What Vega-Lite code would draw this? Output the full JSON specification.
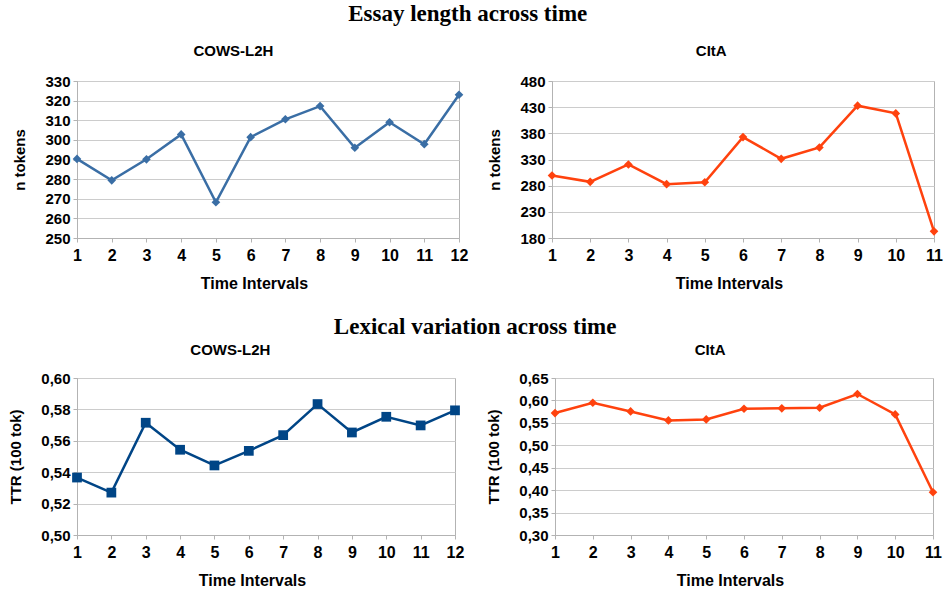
{
  "$schema": "https://vega.github.io/schema/vega-lite/v6.json",
  "background": "white",
  "padding": {"left": 8, "top": 2, "right": 4, "bottom": 2},
  "datasets": {
    "cows_len": [
      {"t": 1, "v": 290.3}, {"t": 2, "v": 279.4}, {"t": 3, "v": 290.1}, {"t": 4, "v": 302.8},
      {"t": 5, "v": 268.2}, {"t": 6, "v": 301.4}, {"t": 7, "v": 310.5}, {"t": 8, "v": 317.2},
      {"t": 9, "v": 296.0}, {"t": 10, "v": 309.0}, {"t": 11, "v": 297.8}, {"t": 12, "v": 323.0}
    ],
    "cita_len": [
      {"t": 1, "v": 299.4}, {"t": 2, "v": 287.3}, {"t": 3, "v": 320.5}, {"t": 4, "v": 282.8},
      {"t": 5, "v": 286.6}, {"t": 6, "v": 372.8}, {"t": 7, "v": 331.3}, {"t": 8, "v": 353.0},
      {"t": 9, "v": 432.8}, {"t": 10, "v": 418.1}, {"t": 11, "v": 192.8}
    ],
    "cows_ttr": [
      {"t": 1, "v": 0.5366}, {"t": 2, "v": 0.527}, {"t": 3, "v": 0.5715}, {"t": 4, "v": 0.5543},
      {"t": 5, "v": 0.5443}, {"t": 6, "v": 0.5536}, {"t": 7, "v": 0.5636}, {"t": 8, "v": 0.5834},
      {"t": 9, "v": 0.5653}, {"t": 10, "v": 0.5753}, {"t": 11, "v": 0.5698}, {"t": 12, "v": 0.5794}
    ],
    "cita_ttr": [
      {"t": 1, "v": 0.5718}, {"t": 2, "v": 0.5949}, {"t": 3, "v": 0.5755}, {"t": 4, "v": 0.5554},
      {"t": 5, "v": 0.5577}, {"t": 6, "v": 0.5815}, {"t": 7, "v": 0.5823}, {"t": 8, "v": 0.5837},
      {"t": 9, "v": 0.6143}, {"t": 10, "v": 0.5688}, {"t": 11, "v": 0.3953}
    ]
  },
  "vconcat": [
    {
      "title": {"text": "Essay length across time", "font": "Liberation Serif", "fontSize": 23, "fontWeight": "bold", "anchor": "middle", "offset": 18, "dx": -10},
      "spacing": 18,
      "hconcat": [
        {
          "title": {"text": "COWS-L2H", "frame": "bounds", "dx": -7},
          "width": 382, "height": 157,
          "data": {"name": "cows_len"},
          "mark": {"type": "line", "color": "#3a6ea5", "strokeWidth": 2.5, "point": {"shape": "diamond", "size": 75, "filled": true, "color": "#3a6ea5", "opacity": 1}},
          "encoding": {
            "x": {"field": "t", "type": "quantitative", "scale": {"domain": [1, 12], "nice": false, "zero": false}, "axis": {"title": "Time Intervals", "titleX": 177, "values": [1,2,3,4,5,6,7,8,9,10,11,12], "grid": false, "format": "d"}},
            "y": {"field": "v", "type": "quantitative", "scale": {"domain": [250, 330], "nice": false, "zero": false}, "axis": {"title": "n tokens", "values": [250,260,270,280,290,300,310,320,330]}}
          }
        },
        {
          "title": {"text": "CItA", "frame": "bounds", "dx": -4},
          "width": 382, "height": 157,
          "data": {"name": "cita_len"},
          "mark": {"type": "line", "color": "#ff420e", "strokeWidth": 2.5, "point": {"shape": "diamond", "size": 75, "filled": true, "color": "#ff420e", "opacity": 1}},
          "encoding": {
            "x": {"field": "t", "type": "quantitative", "scale": {"domain": [1, 11], "nice": false, "zero": false}, "axis": {"title": "Time Intervals", "titleX": 177, "values": [1,2,3,4,5,6,7,8,9,10,11], "grid": false, "format": "d"}},
            "y": {"field": "v", "type": "quantitative", "scale": {"domain": [180, 480], "nice": false, "zero": false}, "axis": {"title": "n tokens", "values": [180,230,280,330,380,430,480]}}
          }
        }
      ]
    },
    {
      "title": {"text": "Lexical variation across time", "font": "Liberation Serif", "fontSize": 23, "fontWeight": "bold", "anchor": "middle", "offset": 4},
      "spacing": 21,
      "hconcat": [
        {
          "title": {"text": "COWS-L2H", "frame": "bounds", "dx": -6, "offset": 13},
          "width": 378, "height": 157,
          "data": {"name": "cows_ttr"},
          "mark": {"type": "line", "color": "#004586", "strokeWidth": 2.5, "point": {"shape": "square", "size": 95, "filled": true, "color": "#004586", "opacity": 1}},
          "encoding": {
            "x": {"field": "t", "type": "quantitative", "scale": {"domain": [1, 12], "nice": false, "zero": false}, "axis": {"title": "Time Intervals", "titleX": 175, "values": [1,2,3,4,5,6,7,8,9,10,11,12], "grid": false, "format": "d"}},
            "y": {"field": "v", "type": "quantitative", "scale": {"domain": [0.5, 0.6], "nice": false, "zero": false}, "axis": {"title": "TTR (100 tok)", "values": [0.5,0.52,0.54,0.56,0.58,0.6], "labelExpr": "replace(format(datum.value, '.2f'), '.', ',')"}}
          }
        },
        {
          "title": {"text": "CItA", "frame": "bounds", "dx": -4, "offset": 13},
          "width": 378, "height": 157,
          "data": {"name": "cita_ttr"},
          "mark": {"type": "line", "color": "#ff420e", "strokeWidth": 2.5, "point": {"shape": "diamond", "size": 75, "filled": true, "color": "#ff420e", "opacity": 1}},
          "encoding": {
            "x": {"field": "t", "type": "quantitative", "scale": {"domain": [1, 11], "nice": false, "zero": false}, "axis": {"title": "Time Intervals", "titleX": 175, "values": [1,2,3,4,5,6,7,8,9,10,11], "grid": false, "format": "d"}},
            "y": {"field": "v", "type": "quantitative", "scale": {"domain": [0.3, 0.65], "nice": false, "zero": false}, "axis": {"title": "TTR (100 tok)", "values": [0.3,0.35,0.4,0.45,0.5,0.55,0.6,0.65], "labelExpr": "replace(format(datum.value, '.2f'), '.', ',')"}}
          }
        }
      ]
    }
  ],
  "spacing": 23,
  "config": {
    "font": "Liberation Sans",
    "view": {"stroke": "#b3b3b3", "strokeWidth": 1},
    "title": {"font": "Liberation Sans", "fontSize": 15, "fontWeight": "bold", "color": "#000000", "anchor": "middle", "offset": 15},
    "axis": {
      "labelFont": "Liberation Sans", "labelFontWeight": "bold", "labelFontSize": 15, "labelColor": "#000000",
      "titleFont": "Liberation Sans", "titleFontWeight": "bold", "titleFontSize": 15, "titleColor": "#000000",
      "domainColor": "#b3b3b3", "tickColor": "#b3b3b3", "gridColor": "#cccccc", "gridOpacity": 1,
      "tickSize": 4, "labelPadding": 3, "labelFlush": false, "labelOverlap": false
    },
    "axisX": {"labelFontSize": 16, "titleFontSize": 16, "labelPadding": 5, "titlePadding": 12},
    "axisY": {"titlePadding": 17}
  }
}
